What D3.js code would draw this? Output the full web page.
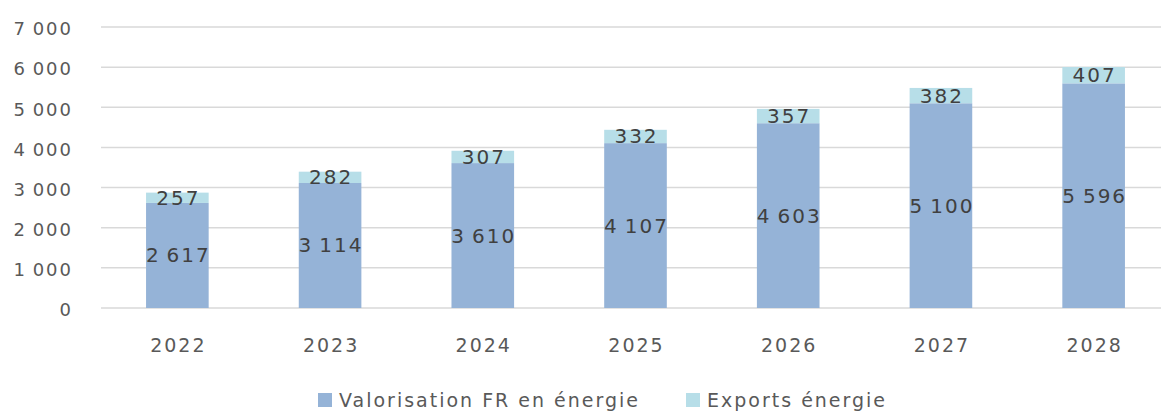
<!DOCTYPE html>
<html><head><meta charset="utf-8">
<script src="https://cdn.jsdelivr.net/npm/d3@7"></script>
<style>body{margin:0;background:#fff;} svg{display:block;font-family:"DejaVu Sans",sans-serif;letter-spacing:2px;}</style>
</head><body><svg id="c" width="1161" height="412"></svg>
<script>
const categories = ["2022","2023","2024","2025","2026","2027","2028"];
const valorisation = [2617,3114,3610,4107,4603,5100,5596];
const exportsE = [257,282,307,332,357,382,407];
const yTicks = [0,1000,2000,3000,4000,5000,6000,7000];
const yTickLabels = ["0","1\u2009000","2\u2009000","3\u2009000","4\u2009000","5\u2009000","6\u2009000","7\u2009000"];
const seriesNames = ["Valorisation FR en énergie","Exports énergie"];
const colors = ["#95B3D7","#B7DEE8"];

const svg = d3.select("#c");
const y = d3.scaleLinear().domain([0,7000]).range([308,27]);
const x = d3.scaleBand().domain(categories).range([101,1170]).paddingInner(0.59).paddingOuter(0.295);
const fmt = v => String(v).replace(/\B(?=(\d{3})+(?!\d))/g,"\u2009");

svg.append("g").selectAll("line").data(yTicks).join("line")
  .attr("x1",101).attr("x2",1161).attr("y1",d=>y(d)).attr("y2",d=>y(d))
  .attr("stroke","#d9d9d9").attr("stroke-width",1.5);

svg.append("g").selectAll("text").data(yTicks).join("text")
  .attr("x",73).attr("y",d=>y(d)+2).attr("dy","0.35em").attr("text-anchor","end")
  .attr("fill","#595959").attr("font-size",18).text((d,i)=>yTickLabels[i]);

const stack = categories.map((c,i)=>({c, v:valorisation[i], e:exportsE[i]}));
const g = svg.append("g");
g.selectAll("rect.v").data(stack).join("rect").attr("class","v")
  .attr("x",d=>x(d.c)).attr("width",x.bandwidth())
  .attr("y",d=>y(d.v)).attr("height",d=>y(0)-y(d.v)).attr("fill",colors[0]);
g.selectAll("rect.e").data(stack).join("rect").attr("class","e")
  .attr("x",d=>x(d.c)).attr("width",x.bandwidth())
  .attr("y",d=>y(d.v+d.e)).attr("height",d=>y(d.v)-y(d.v+d.e)).attr("fill",colors[1]);

g.selectAll("text.v").data(stack).join("text").attr("class","v")
  .attr("x",d=>x(d.c)+x.bandwidth()/2+1).attr("y",d=>y(d.v/2)).attr("dy","0.35em")
  .attr("text-anchor","middle").attr("fill","#404040").attr("font-size",20).text(d=>fmt(d.v));
g.selectAll("text.e").data(stack).join("text").attr("class","e")
  .attr("x",d=>x(d.c)+x.bandwidth()/2+1).attr("y",d=>y(d.v+d.e/2)).attr("dy","0.35em")
  .attr("text-anchor","middle").attr("fill","#404040").attr("font-size",20).text(d=>fmt(d.e));

svg.append("g").selectAll("text").data(categories).join("text")
  .attr("x",d=>x(d)+x.bandwidth()/2+1).attr("y",345).attr("dy","0.35em").attr("text-anchor","middle")
  .attr("fill","#595959").attr("font-size",19).text(d=>d);

const legX = [318,686];
const lg = svg.append("g").selectAll("g").data(seriesNames).join("g")
  .attr("transform",(d,i)=>`translate(${legX[i]},400)`);
lg.append("rect").attr("x",0).attr("y",-7).attr("width",14).attr("height",14).attr("fill",(d,i)=>colors[i]);
lg.append("text").attr("x",21).attr("y",0).attr("dy","0.35em").attr("fill","#595959").attr("font-size",19).text(d=>d);
</script></body></html>
